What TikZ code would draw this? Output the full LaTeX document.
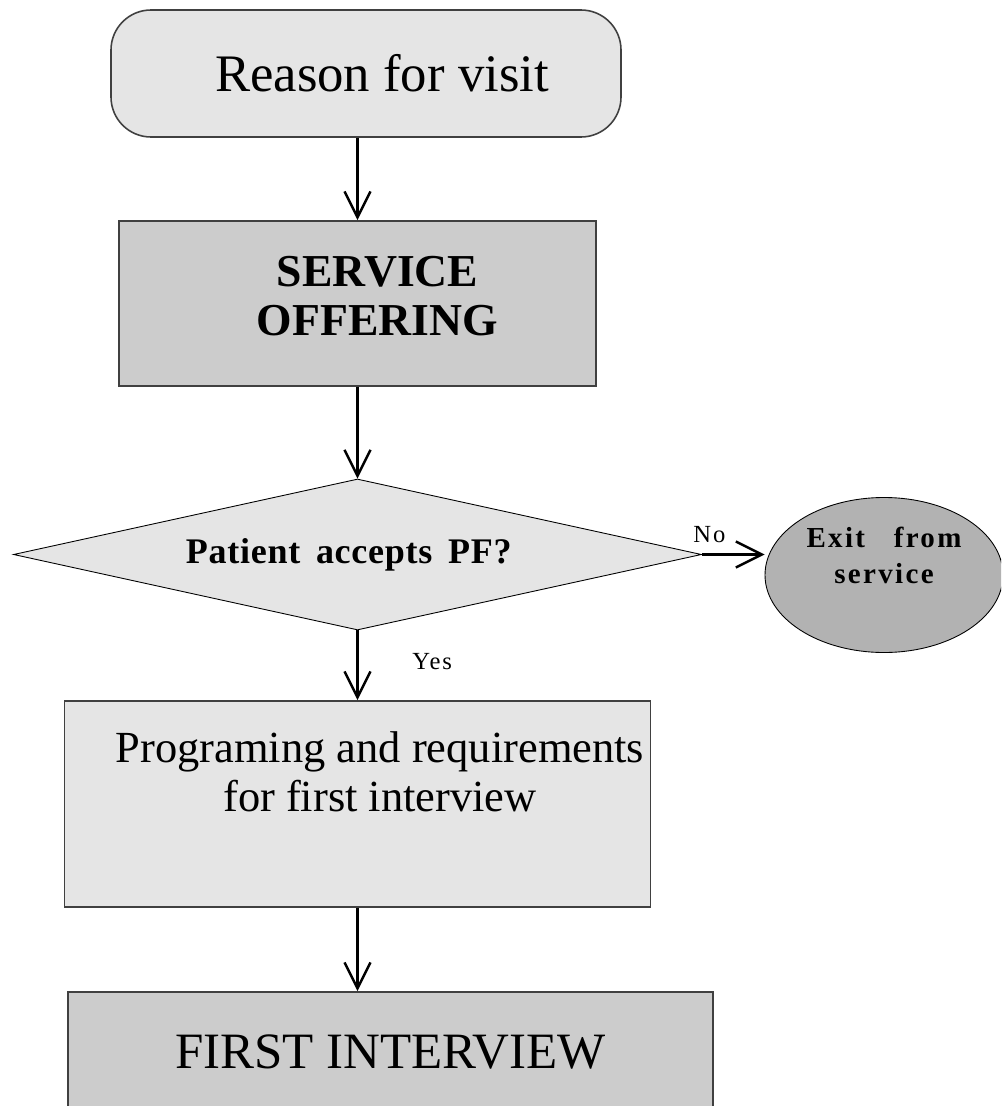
\documentclass[tikz,border=0pt]{standalone}
\usepackage{fontspec}
\setmainfont{Liberation Serif}
\newfontfamily\spaced[LetterSpace=8]{Liberation Serif}
\newfontfamily\snug[LetterSpace=2]{Liberation Serif}
\usetikzlibrary{arrows.meta,positioning,shapes.geometric}

\begin{document}
\begin{tikzpicture}[node distance=5cm,on grid,auto,
    >={Straight Barb[length=0.52cm,width=0.52cm]},
    every edge/.style={draw,line width=1.4pt},
    box/.style={rectangle,draw=black!75,line width=0.9pt,inner sep=0pt},
    light/.style={fill=black!10},
    dark/.style={fill=black!20},
    tag/.style={font=\spaced\fontsize{14}{16}\selectfont,inner sep=2pt}]
   \clip (0,0) rectangle (20.02,-22.12);
   \node[box,light,rounded corners=0.8cm,minimum width=10.2cm,minimum height=2.54cm,
         font=\fontsize{30}{34}\selectfont] (reason) at (7.32,-1.47) {\hspace*{0.64cm}Reason for visit};
   \node[box,dark,minimum width=9.54cm,minimum height=3.3cm,align=center,text depth=0.3cm,
         font=\bfseries\fontsize{26}{28}\selectfont] (service) [below=4.6cm of reason,xshift=-0.17cm]
         {\hspace*{0.8cm}SERVICE\\\hspace*{0.8cm}OFFERING};
   \node[diamond,aspect=4.556,draw,light,line width=0.5pt,minimum width=13.76cm,minimum height=3.02cm,inner sep=0pt,
         font=\snug\bfseries\fontsize{20.5}{22}\selectfont] (accept) [below=5.02cm of service]
         {\hspace*{-0.35cm}Patient~\,accepts~\,PF?};
   \node[ellipse,draw,fill=black!30,line width=0.5pt,minimum width=4.76cm,minimum height=3.1cm,inner sep=0pt,
         align=center,text depth=0.8cm,font=\spaced\bfseries\fontsize{16.5}{20.5}\selectfont] (exit)
         [right=10.53cm of accept,yshift=-0.41cm] {Exit\ \ \ from\\service};
   \node[box,light,minimum width=11.72cm,minimum height=4.12cm,align=center,text depth=1.3cm,
         font=\fontsize{25.3}{27.5}\selectfont] (program) [below=4.99cm of accept]
         {\hspace*{0.9cm}Programing and requirements\\\hspace*{0.9cm}for first interview};
   \node[box,dark,minimum width=12.9cm,minimum height=2.4cm,
         font=\fontsize{29}{33}\selectfont] (interview) [below=4.96cm of program,xshift=0.66cm] {FIRST INTERVIEW};

   \path[->] (reason.south -| accept) edge (service.north -| accept);
   \path[->] (service.south -| accept) edge (accept.north);
   \path[->] (accept.south) edge node[tag,pos=0.45,xshift=1cm] {Yes} (program.north -| accept);
   \path[->] (program.south -| accept) edge (interview.north -| accept);
   \path[->] (accept.east) edge node[tag,pos=0.12,yshift=0.15cm] {No} (accept.east -| exit.west);
\end{tikzpicture}
\end{document}
